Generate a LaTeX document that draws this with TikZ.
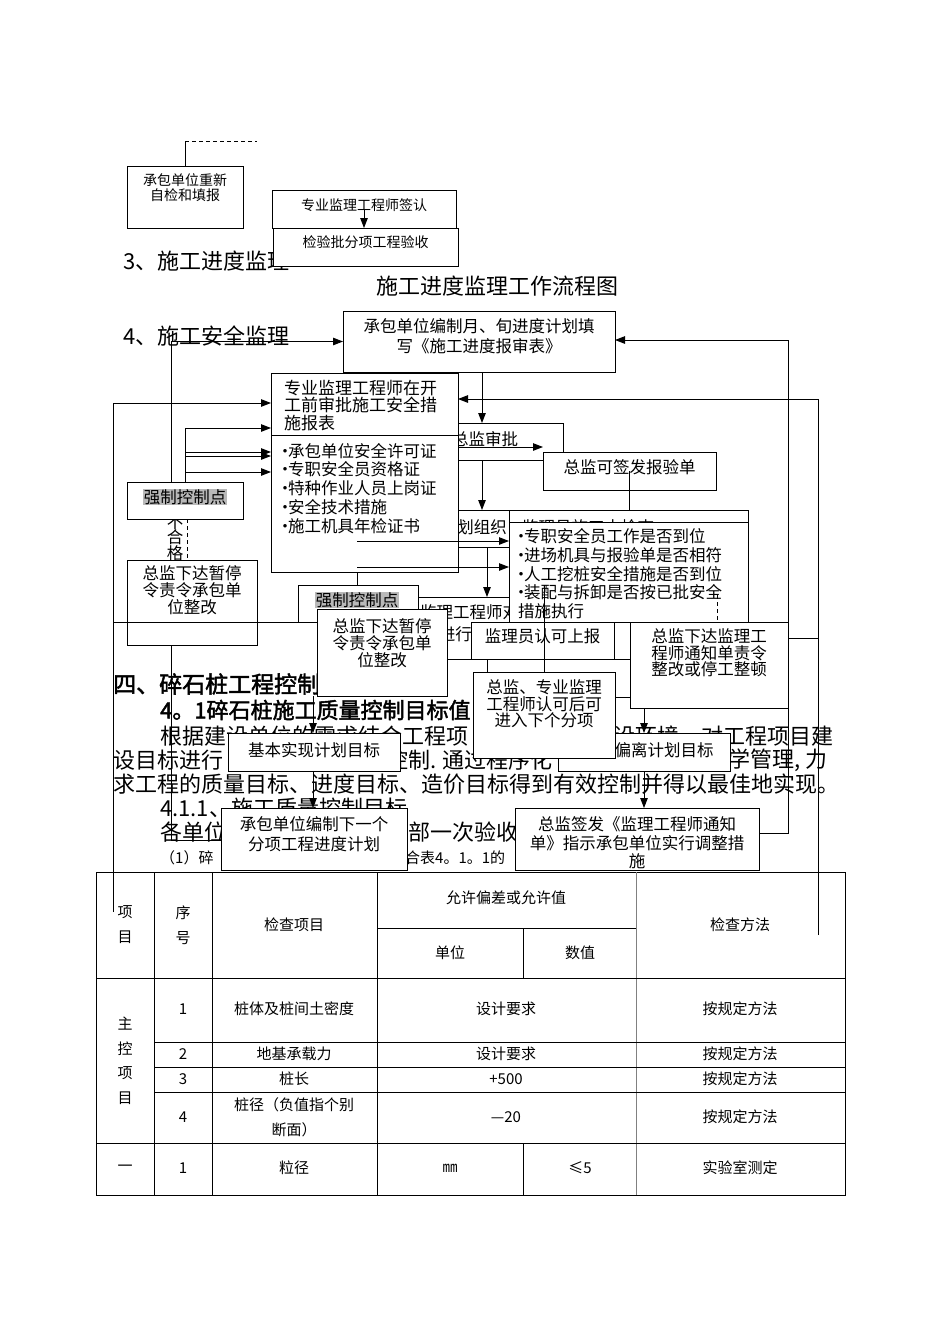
\documentclass[tikz,border=0pt]{standalone}
\usepackage{fontspec}
\setmainfont{Noto Sans CJK SC}[AutoFakeBold=2]
\usetikzlibrary{arrows.meta, positioning}
\newcommand{\bdot}{\makebox[6pt][c]{·}}
\tikzset{
  box/.style={rectangle, draw, fill=white, line width=1pt, anchor=north west,
    inner sep=0pt, outer sep=0pt},
  btxt/.style={align=center, inner sep=0pt, font=\fontsize{16.5}{17.5}\selectfont},
  ltxt/.style={align=left, inner sep=0pt, font=\fontsize{16.5}{18.7}\selectfont},
  stxt/.style={align=center, inner sep=0pt, font=\fontsize{14}{15}\selectfont},
  body/.style={anchor=west, inner sep=0pt, font=\fontsize{22}{24}\selectfont},
  ttxt/.style={align=center, inner sep=0pt, font=\fontsize{15}{25}\selectfont},
  hl/.style={fill=gray!55, inner sep=0.5pt, font=\fontsize{16.5}{17.5}\selectfont},
  arrow/.style={-{Triangle[length=10pt, width=7.5pt]}, line width=1pt},
  line/.style={line width=1pt},
  dline/.style={line width=1pt, dash pattern=on 4pt off 3pt},
  tline/.style={line width=0.9pt}
}
\begin{document}
\begin{tikzpicture}[x=1pt, y=-1pt]
  \useasboundingbox[fill=white] (0,0) rectangle (950,1344);

  % body text behind the chart
  \node[body] (h3) at (123,261) {3、施工进度监理};
  \node[body, anchor=center] (ttl) at (497,286) {施工进度监理工作流程图};
  \node[body] (h4) at (123,336) {4、施工安全监理};
  \node[body, font=\fontsize{23}{24}\selectfont\bfseries] (h5) at (113,684) {四、碎石桩工程控制};
  \node[body, font=\fontsize{22}{24}\selectfont\bfseries] (h51) at (160,710) {4。1碎石桩施工质量控制目标值};
  \node[body] (p1a) at (160,736) {根据建设单位的需求结合工程项};
  \node[body] (p1b) at (613,736) {设环境，对工程项目建};
  \node[body] (p2a) at (113,760) {设目标进行};
  \node[body] (p2b) at (386,760) {控制. 通过程序化};
  \node[body] (p2c) at (706,760) {科学管理, 力};
  \node[body] (p3) at (113,784) {求工程的质量目标、进度目标、造价目标得到有效控制并得以最佳地实现。};
  \node[body] (p4) at (160,808) {4.1.1、施工质量控制目标};
  \node[body] (p5a) at (160,832) {各单位};
  \node[body] (p5b) at (408,832) {部一次验收};
  \node[body, font=\fontsize{15}{17}\selectfont] (p6a) at (160,858) {（1）碎};
  \node[body, font=\fontsize{15}{17}\selectfont] (p6b) at (405,858) {合表4。1。1的};
  \node[btxt, font=\fontsize{16.5}{15.5}\selectfont] (ng) at (175,538) {不\\合\\格};

  % top part
  \node[box, minimum width=116pt, minimum height=62pt] (rechk) at (127,166) {};
  \node[stxt, below=7pt of rechk.north] (rechkT) {承包单位重新\\自检和填报};
  \node[box, minimum width=184pt, minimum height=38pt] (qsign) at (272,190) {};
  \node[stxt, below=8pt of qsign.north] (qsignT) {专业监理工程师签认};
  \node[box, minimum width=185pt, minimum height=38pt] (qacc) at (273,228) {};
  \node[stxt, below=7pt of qacc.north] (qaccT) {检验批分项工程验收};

  % progress / safety chart
  \node[box, minimum width=272pt, minimum height=61pt] (prog) at (343,311) {};
  \node[btxt, font=\fontsize{16.5}{20}\selectfont, below=7.5pt of prog.north] (progT)
    {承包单位编制月、旬进度计划填\\写《施工进度报审表》};
  \node[box, minimum width=123pt, minimum height=37pt] (zsp) at (440,423) {};
  \node[btxt] (zspT) at (485,439) {总监审批};
  \node[box, minimum width=109pt, minimum height=37pt] (jh) at (400,510) {};
  \node[btxt, anchor=east] (jhT) at (507,527) {计划组织};
  \node[box, minimum width=187pt, minimum height=199pt] (spv) at (271,373) {};
  \draw[line] (spv.west |- 0,435) -- (spv.east |- 0,435);
  \node[ltxt, font=\fontsize{17}{17.5}\selectfont, below right=6.5pt and 13pt of spv.north west] (spvT)
    {专业监理工程师在开\\工前审批施工安全措\\施报表};
  \node[ltxt, below right=70pt and 11pt of spv.north west] (spvL)
    {\bdot 承包单位安全许可证\\\bdot 专职安全员资格证\\\bdot 特种作业人员上岗证\\\bdot 安全技术措施\\\bdot 施工机具年检证书};
  \node[box, minimum width=173pt, minimum height=38pt] (qf) at (543,452) {};
  \node[btxt, below=7pt of qf.north] (qfT) {总监可签发报验单};
  \node[box, minimum width=239pt, minimum height=50pt] (chk) at (509,510) {};
  \node[btxt, anchor=west] (chkT) at (522,527) {监理员施工中检查};
  \node[box, minimum width=116pt, minimum height=37pt] (rule1) at (127,482) {};
  \node[hl] (rule1T) at (185,497) {强制控制点};
  \node[box, minimum width=130pt, minimum height=85pt] (stop1) at (127,560) {};
  \node[btxt, font=\fontsize{16.5}{17}\selectfont, below=5.5pt of stop1.north] (stop1T)
    {总监下达暂停\\令责令承包单\\位整改};
  \node[box, minimum width=120pt, minimum height=37pt] (rule2) at (298,585) {};
  \node[hl] (rule2T) at (357,600) {强制控制点};
  \node[box, minimum width=102pt, minimum height=62pt] (jdb) at (418,597) {};
  \node[btxt, anchor=west] (jdbT) at (420,612) {监理工程师对};
  \node[btxt, anchor=east] (jdbU) at (472,634) {进行};
  \node[box, minimum width=239pt, minimum height=100pt] (blt) at (509,522) {};
  \node[ltxt, below right=6.5pt and 9pt of blt.north west] (bltT)
    {\bdot 专职安全员工作是否到位\\\bdot 进场机具与报验单是否相符\\\bdot 人工挖桩安全措施是否到位\\\bdot 装配与拆卸是否按已批安全\\措施执行};
  \node[box, minimum width=130pt, minimum height=87pt] (stop2) at (317,609) {};
  \node[btxt, font=\fontsize{16.5}{17}\selectfont, below=9.5pt of stop2.north] (stop2T)
    {总监下达暂停\\令责令承包单\\位整改};
  \node[box, minimum width=143pt, minimum height=37pt] (ok) at (471,622) {};
  \node[btxt, below=6.5pt of ok.north] (okT) {监理员认可上报};
  \node[box, minimum width=158pt, minimum height=86pt] (notice) at (630,622) {};
  \node[btxt, font=\fontsize{16.5}{16.5}\selectfont, below=6.5pt of notice.north] (noticeT)
    {总监下达监理工\\程师通知单责令\\整改或停工整顿};
  \node[box, minimum width=172pt, minimum height=38pt] (dev) at (558,733) {};
  \node[btxt] (devT) at (664,750) {偏离计划目标};
  \node[box, minimum width=142pt, minimum height=86pt] (agree) at (473,672) {};
  \node[btxt, font=\fontsize{16.5}{16.5}\selectfont, below=7.5pt of agree.north] (agreeT)
    {总监、专业监理\\工程师认可后可\\进入下个分项};
  \node[box, minimum width=172pt, minimum height=38pt] (base) at (228,733) {};
  \node[btxt] (baseT) at (314,750) {基本实现计划目标};
  \node[box, minimum width=186pt, minimum height=62pt] (next) at (221,808) {};
  \node[btxt, font=\fontsize{16.5}{20}\selectfont, below=8.5pt of next.north] (nextT)
    {承包单位编制下一个\\分项工程进度计划};
  \node[box, minimum width=244pt, minimum height=62pt] (adjust) at (515,808) {};
  \node[btxt, font=\fontsize{16.5}{18.5}\selectfont, below=8.5pt of adjust.north] (adjustT)
    {总监签发《监理工程师通知\\单》指示承包单位实行调整措\\施};

  % table
  \draw[tline] (96,872) rectangle (845,1195);
  \foreach \xx in {154,212,377} \draw[tline] (\xx,872) -- (\xx,1195);
  \draw[tline, gray] (636,872) -- (636,1195);
  \draw[tline] (523,928) -- (523,978);
  \draw[tline] (523,1143) -- (523,1195);
  \draw[tline] (377,928) -- (636,928);
  \draw[tline] (96,978) -- (845,978);
  \foreach \yy in {1042,1067,1092} \draw[tline] (154,\yy) -- (845,\yy);
  \draw[tline] (96,1143) -- (845,1143);
  \node[ttxt] (hxm) at (125,925) {项\\目};
  \node[ttxt] (hxh) at (183,925) {序\\号};
  \node[ttxt] (hjc) at (294,925) {检查项目};
  \node[ttxt] (hyx) at (506,898) {允许偏差或允许值};
  \node[ttxt] (hdw) at (450,953) {单位};
  \node[ttxt] (hsz) at (580,953) {数值};
  \node[ttxt] (hff) at (740,925) {检查方法};
  \node[ttxt, font=\fontsize{15}{24.5}\selectfont] (zk) at (125,1061) {主\\控\\项\\目};
  \foreach \yy/\nn/\it/\vv in {1009/1/桩体及桩间土密度/设计要求, 1054/2/地基承载力/设计要求,
      1079/3/桩长/+500, 1117/4/{桩径（负值指个别\\断面）}/—20} {
    \node[ttxt] (no\nn) at (183,\yy) {\nn};
    \node[ttxt] (it\nn) at (294,\yy) {\it};
    \node[ttxt] (vv\nn) at (506,\yy) {\vv};
    \node[ttxt] (ff\nn) at (740,\yy) {按规定方法};
  }
  \node[ttxt] (ybh) at (125,1168) {一};
  \node[ttxt] (yno) at (183,1168) {1};
  \node[ttxt] (yit) at (294,1168) {粒径};
  \node[ttxt] (ydw) at (450,1168) {㎜};
  \node[ttxt] (ysz) at (580,1168) {≤5};
  \node[ttxt] (yff) at (740,1168) {实验室测定};

  % connectors
  \draw[line] (rechk.north) -- ++(0,-25) coordinate (dcor);
  \draw[dline] (dcor) -- ++(72,0);
  \draw[arrow] ([yshift=18pt]qsign.south) -- (qsign.south);
  \draw[arrow] (171,0 |- rule1.north) |- (prog.west);
  \draw[arrow] (adjust.east |- 0,833) -| (788,340) -- (prog.east |- 0,340);
  \draw[arrow] (818,935) |- (spv.east |- 0,399);
  \draw[arrow] (113,912) |- (spv.west |- 0,403);
  \draw[line] (185,428) -- (rule1.north);
  \foreach \yy in {428,452,456,472} \draw[arrow] (185,\yy) -- (spv.west |- 0,\yy);
  \draw[arrow] (482,0 |- prog.south) -- (482,0 |- zsp.north);
  \draw[arrow] (spv.east |- 0,447) -- (543,447);
  \draw[arrow] (482,0 |- zsp.south) -- (482,0 |- jh.north);
  \draw[line] (qf.center) -- (qf.center |- chk.north);
  \draw[arrow] (357,541) -- (blt.west |- 0,541);
  \draw[arrow] (357,567) -- (blt.west |- 0,567);
  \draw[arrow] (487,0 |- jh.south) -- (487,0 |- jdb.north);
  \draw[line] (357,0 |- spv.south) -- (357,0 |- rule2.north);
  \draw[dline] (rule1.south -| 187,0) -- (187,0 |- stop1.north);
  \draw[line] (113,622) -- (stop2.west |- 0,622);
  \draw[line] (171,0 |- stop1.south) |- (next.west |- 0,840);
  \draw[line] (544,585) -- (544,0 |- agree.north);
  \draw[line] (stop2.east |- 0,659) -- (notice.west |- 0,659);
  \draw[line] (487,659) -- (487,0 |- agree.north);
  \draw[dline] (717,595) -- (717,0 |- notice.north);
  \draw[line] (agree.east |- 0,697) -- (notice.west |- 0,697);
  \draw[line] (notice.east |- 0,638) -- (818,638);
  \draw[arrow] (644,0 |- notice.south) -- (644,0 |- dev.north);
  \draw[arrow] (644,0 |- dev.south) -- (644,0 |- adjust.north);
  \draw[arrow] (313,0 |- stop2.south) -- (313,0 |- base.north);
  \draw[arrow] (313,0 |- base.south) -- (313,0 |- next.north);
\end{tikzpicture}
\end{document}
